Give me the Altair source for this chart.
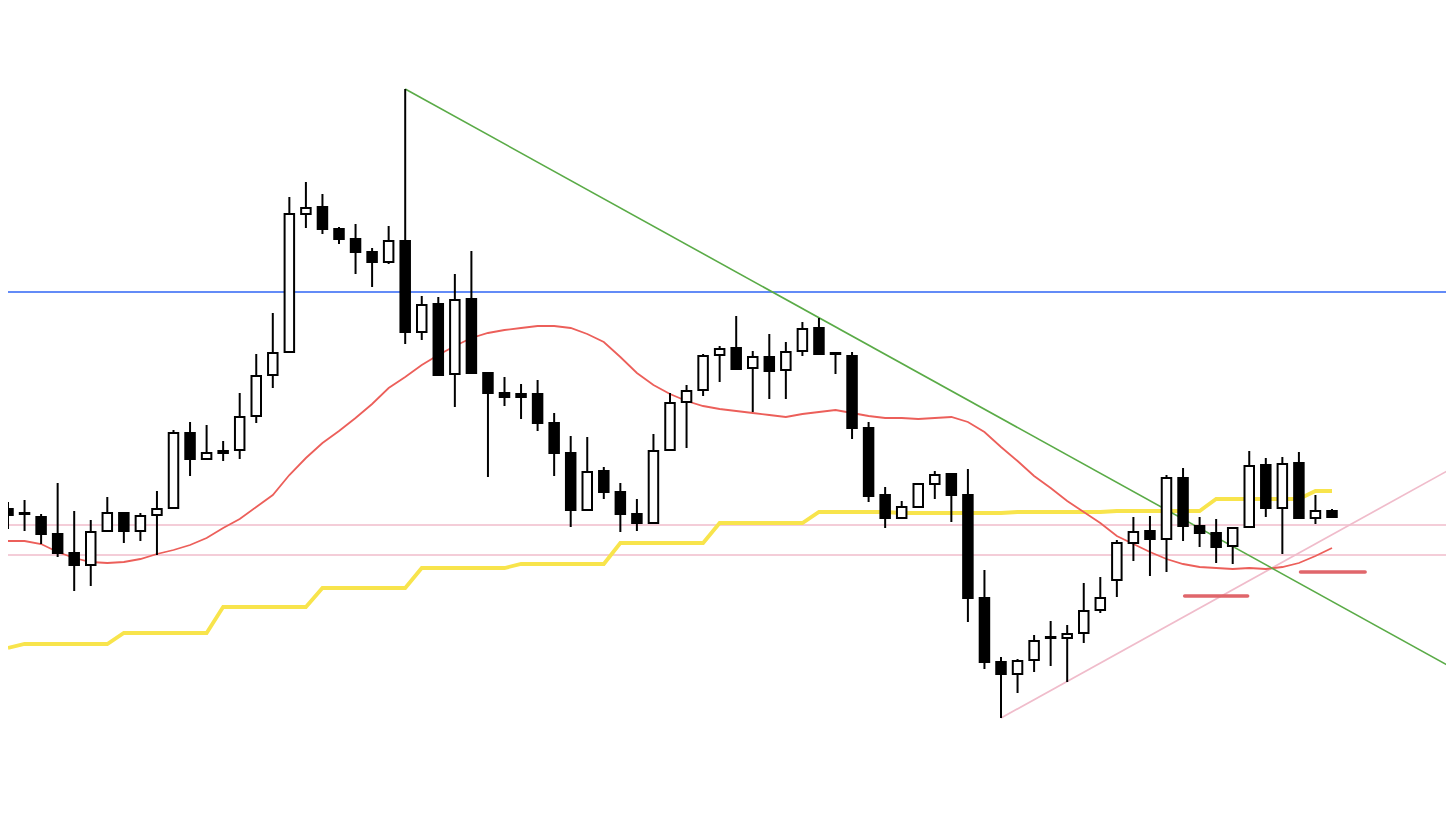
import altair as alt
import pandas as pd

# ---- candle data (price in chart points), index 0..80 ----
opens = [329, 325, 321, 304, 285, 273, 307, 325, 307, 323,
         330, 405, 379, 387, 388, 422, 463, 486, 624, 631,
         609, 599, 586, 576, 597, 506, 534, 464, 539, 465,
         445, 444, 444, 415, 385, 328, 367, 346, 324, 315,
         388, 436, 448, 483, 490, 470, 481, 468, 487, 510,
         485, 482, 410, 343, 320, 331, 354, 364, 343, 240,
         176, 164, 178, 200, 200, 205, 228, 258, 295, 307,
         299, 360, 312, 305, 292, 311, 373, 330, 375, 320,
         327]
highs = [336, 338, 324, 355, 327, 318, 341, 325, 325, 347,
         408, 416, 413, 397, 445, 484, 525, 641, 656, 644,
         611, 614, 590, 612, 749, 542, 541, 564, 587, 465,
         461, 454, 458, 425, 402, 401, 371, 355, 339, 404,
         445, 453, 484, 492, 522, 487, 504, 496, 516, 520,
         485, 486, 416, 351, 337, 355, 367, 365, 369, 268,
         181, 179, 203, 217, 213, 255, 261, 298, 321, 322,
         363, 370, 321, 319, 310, 387, 380, 381, 386, 343,
         329]
lows = [309, 307, 294, 281, 247, 252, 307, 295, 297, 283,
        329, 362, 379, 377, 379, 415, 450, 486, 610, 604,
        594, 564, 551, 574, 494, 498, 462, 431, 465, 361,
        432, 419, 407, 362, 311, 327, 339, 306, 307, 315,
        388, 390, 442, 456, 469, 426, 439, 439, 482, 484,
        464, 399, 336, 310, 319, 330, 339, 316, 216, 169,
        120, 145, 166, 172, 156, 195, 225, 241, 277, 262,
        266, 297, 291, 275, 274, 311, 321, 284, 320, 314,
        321]
closes = [323, 324, 304, 285, 273, 306, 325, 307, 322, 329,
          405, 379, 385, 385, 421, 462, 485, 624, 630, 609,
          599, 586, 576, 597, 506, 533, 463, 538, 465, 445,
          441, 441, 415, 385, 328, 366, 346, 324, 315, 387,
          435, 447, 482, 489, 469, 481, 467, 486, 509, 484,
          484, 410, 342, 320, 331, 354, 363, 343, 240, 176,
          164, 177, 197, 201, 204, 227, 240, 295, 306, 299,
          360, 312, 305, 291, 310, 372, 330, 374, 320, 327,
          321]

# red moving average
ma = [297, 297, 294, 286, 280, 276, 275, 276, 279, 284,
      288, 293, 300, 310, 319, 331, 343, 363, 380, 395,
      407, 420, 434, 450, 461, 473, 483, 492, 500, 505,
      508, 510, 512, 512, 510, 504, 496, 481, 465, 453,
      444, 437, 432, 429, 427, 425, 423, 421, 424, 426,
      428, 425, 422, 420, 420, 419, 420, 421, 416, 406,
      391, 377, 362, 350, 337, 326, 315, 302, 294, 286,
      279, 274, 271, 270, 269, 270, 269, 271, 275, 282,
      290]

# yellow base line (step-like)
base = [190, 194, 194, 194, 194, 194, 194, 205, 205, 205,
        205, 205, 205, 231, 231, 231, 231, 231, 231, 250,
        250, 250, 250, 250, 250, 270, 270, 270, 270, 270,
        270, 274, 274, 274, 274, 274, 274, 295, 295, 295,
        295, 295, 295, 315, 315, 315, 315, 315, 315, 326,
        326, 326, 326, 326, 325, 325, 325, 325, 325, 325,
        325, 326, 326, 326, 326, 326, 326, 327, 327, 327,
        327, 327, 327, 339, 339, 339, 339, 339, 339, 347,
        347]

# horizontal levels
level_prices = [546, 313, 283]
level_colors = ["#2f64f5", "#f0bccb", "#f0bccb"]

# trend lines (index, price)
green_i = [24, 87.5]
green_p = [749, 168]
pink_i = [60, 87.5]
pink_p = [120, 372]

# short red zones
zone_i = [71.1, 74.9, 78.1, 82.0]
zone_p = [242, 242, 266, 266]
zone_id = ["a", "a", "b", "b"]

W, H = 1438, 780
X_MAX = W / 16.55
Y_MIN, Y_MAX = 50, 830

candles = pd.DataFrame({
    "i": list(range(len(opens))),
    "open": opens, "high": highs, "low": lows, "close": closes,
    "ma": ma, "base": base,
})
levels = pd.DataFrame({"p": level_prices, "c": level_colors})
green = pd.DataFrame({"i": green_i, "p": green_p})
pink = pd.DataFrame({"i": pink_i, "p": pink_p})
zones = pd.DataFrame({"i": zone_i, "p": zone_p, "z": zone_id})

xs = alt.Scale(domain=[0, X_MAX], nice=False, zero=False, padding=0)
ys = alt.Scale(domain=[Y_MIN, Y_MAX], nice=False, zero=False, padding=0)

def X(f):
    return alt.X(f, type="quantitative", scale=xs, axis=None)

def Y(f):
    return alt.Y(f, type="quantitative", scale=ys, axis=None)

level_layer = alt.Chart(levels).mark_rule(strokeWidth=1.7).encode(
    y=Y("p"), color=alt.Color("c:N", scale=None)
)

base_layer = alt.Chart(candles).mark_line(color="#f8e44c", strokeWidth=3.8).encode(
    x=X("i"), y=Y("base")
)
ma_layer = alt.Chart(candles).mark_line(color="#ec5f5a", strokeWidth=1.8).encode(
    x=X("i"), y=Y("ma")
)
green_layer = alt.Chart(green).mark_line(color="#5aab47", strokeWidth=1.6, clip=True).encode(
    x=X("i"), y=Y("p")
)
pink_layer = alt.Chart(pink).mark_line(color="#f0bccb", strokeWidth=1.7, clip=True).encode(
    x=X("i"), y=Y("p")
)
zone_layer = alt.Chart(zones).mark_line(color="#e0666b", strokeWidth=3.6, strokeCap="round").encode(
    x=X("i"), y=Y("p"), detail="z:N"
)

wick_layer = alt.Chart(candles).mark_rule(color="#000000", strokeWidth=2).encode(
    x=X("i"), y=Y("low"), y2="high"
)
body_layer = alt.Chart(candles).mark_bar(size=9.5, stroke="#000000", strokeWidth=2).encode(
    x=X("i"), y=Y("open"), y2="close",
    fill=alt.condition("datum.close > datum.open", alt.value("#ffffff"), alt.value("#000000")),
)

chart = alt.layer(
    level_layer, pink_layer, base_layer, ma_layer, green_layer, zone_layer,
    wick_layer, body_layer,
).properties(
    width=W, height=H,
    autosize=alt.AutoSizeParams(type="none"),
    padding=0,
    background="#ffffff",
).configure_view(strokeWidth=0).configure_scale(continuousPadding=0)

chart.save("out.html", embed_options={"renderer": "svg", "actions": False})
